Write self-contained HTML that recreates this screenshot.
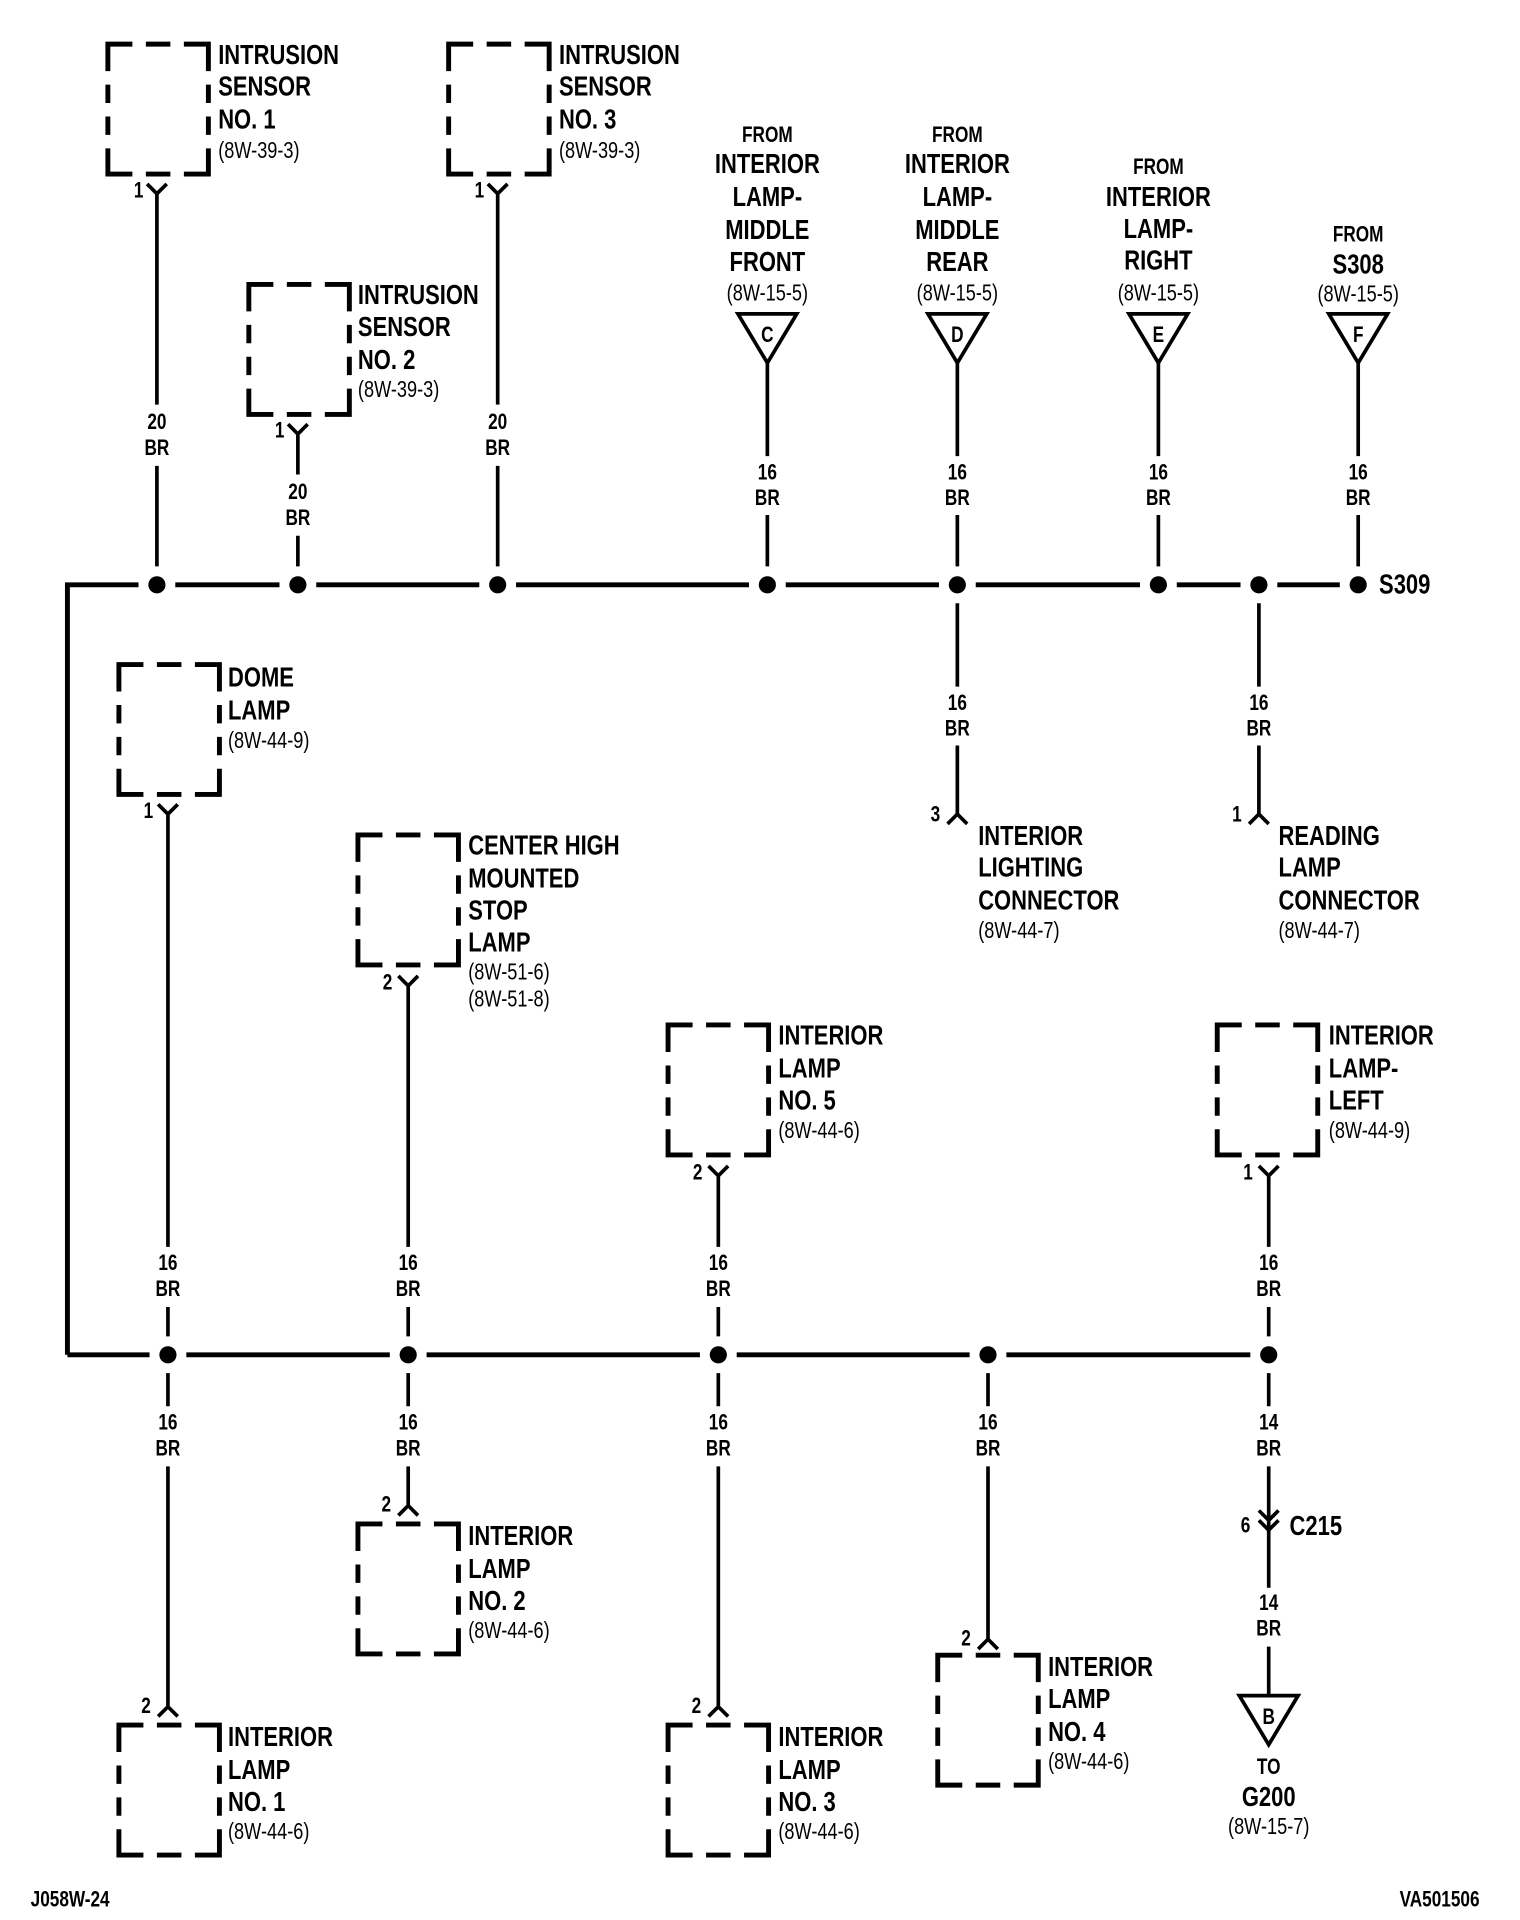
<!DOCTYPE html>
<html><head><meta charset="utf-8"><style>
html,body{margin:0;padding:0;background:#fff}
svg{display:block}
text{font-family:"Liberation Sans",sans-serif;fill:#000}
.b{font-size:23px;font-weight:bold}
.m{font-size:18px;font-weight:bold}
.s{font-size:19px}
.w{stroke:#000;stroke-width:3;fill:none}
.bus{stroke:#000;stroke-width:4;fill:none}
</style></head><body>
<svg width="1520" height="1920" viewBox="0 0 1240 1566" preserveAspectRatio="none" xmlns="http://www.w3.org/2000/svg">
<defs>
<g id="box"><path d="M0,22V0H20M31,0H51M62,0H82V22M82,33V48M82,59V74M82,85V106H62M51,106H31M20,106H0V85M0,74V59M0,48V33" stroke="#000" stroke-width="4" fill="none"/></g>
</defs>

<use href="#box" x="88" y="36"/>
<use href="#box" x="366" y="36"/>
<use href="#box" x="203" y="232"/>
<use href="#box" x="97" y="542"/>
<use href="#box" x="292" y="681"/>
<use href="#box" x="545" y="836"/>
<use href="#box" x="993" y="836"/>
<use href="#box" x="97" y="1407"/>
<use href="#box" x="292" y="1243"/>
<use href="#box" x="545" y="1407"/>
<use href="#box" x="765" y="1350"/>

<g class="b">
<text transform="translate(178,52) scale(.78,1)">INTRUSION</text>
<text transform="translate(178,78) scale(.78,1)">SENSOR</text>
<text transform="translate(178,105) scale(.78,1)">NO. 1</text>
<text transform="translate(456,52) scale(.78,1)">INTRUSION</text>
<text transform="translate(456,78) scale(.78,1)">SENSOR</text>
<text transform="translate(456,105) scale(.78,1)">NO. 3</text>
<text transform="translate(292,248) scale(.78,1)">INTRUSION</text>
<text transform="translate(292,274) scale(.78,1)">SENSOR</text>
<text transform="translate(292,301) scale(.78,1)">NO. 2</text>
<text transform="translate(186,560) scale(.78,1)">DOME</text>
<text transform="translate(186,587) scale(.78,1)">LAMP</text>
<text transform="translate(382,697) scale(.78,1)">CENTER HIGH</text>
<text transform="translate(382,724) scale(.78,1)">MOUNTED</text>
<text transform="translate(382,750) scale(.78,1)">STOP</text>
<text transform="translate(382,776) scale(.78,1)">LAMP</text>
<text transform="translate(635,852) scale(.78,1)">INTERIOR</text>
<text transform="translate(635,879) scale(.78,1)">LAMP</text>
<text transform="translate(635,905) scale(.78,1)">NO. 5</text>
<text transform="translate(1084,852) scale(.78,1)">INTERIOR</text>
<text transform="translate(1084,879) scale(.78,1)">LAMP-</text>
<text transform="translate(1084,905) scale(.78,1)">LEFT</text>
<text transform="translate(798,689) scale(.78,1)">INTERIOR</text>
<text transform="translate(798,715) scale(.78,1)">LIGHTING</text>
<text transform="translate(798,742) scale(.78,1)">CONNECTOR</text>
<text transform="translate(1043,689) scale(.78,1)">READING</text>
<text transform="translate(1043,715) scale(.78,1)">LAMP</text>
<text transform="translate(1043,742) scale(.78,1)">CONNECTOR</text>
<text transform="translate(186,1424) scale(.78,1)">INTERIOR</text>
<text transform="translate(186,1451) scale(.78,1)">LAMP</text>
<text transform="translate(186,1477) scale(.78,1)">NO. 1</text>
<text transform="translate(382,1260) scale(.78,1)">INTERIOR</text>
<text transform="translate(382,1287) scale(.78,1)">LAMP</text>
<text transform="translate(382,1313) scale(.78,1)">NO. 2</text>
<text transform="translate(635,1424) scale(.78,1)">INTERIOR</text>
<text transform="translate(635,1451) scale(.78,1)">LAMP</text>
<text transform="translate(635,1477) scale(.78,1)">NO. 3</text>
<text transform="translate(855,1367) scale(.78,1)">INTERIOR</text>
<text transform="translate(855,1393) scale(.78,1)">LAMP</text>
<text transform="translate(855,1420) scale(.78,1)">NO. 4</text>
<text transform="translate(1125,484) scale(.78,1)">S309</text>
<text transform="translate(1052,1252) scale(.78,1)">C215</text>
</g>
<g class="s">
<text transform="translate(178,129) scale(.78,1)">(8W-39-3)</text>
<text transform="translate(456,129) scale(.78,1)">(8W-39-3)</text>
<text transform="translate(292,324) scale(.78,1)">(8W-39-3)</text>
<text transform="translate(186,610) scale(.78,1)">(8W-44-9)</text>
<text transform="translate(382,799) scale(.78,1)">(8W-51-6)</text>
<text transform="translate(382,821) scale(.78,1)">(8W-51-8)</text>
<text transform="translate(635,928) scale(.78,1)">(8W-44-6)</text>
<text transform="translate(1084,928) scale(.78,1)">(8W-44-9)</text>
<text transform="translate(798,765) scale(.78,1)">(8W-44-7)</text>
<text transform="translate(1043,765) scale(.78,1)">(8W-44-7)</text>
<text transform="translate(186,1500) scale(.78,1)">(8W-44-6)</text>
<text transform="translate(382,1336) scale(.78,1)">(8W-44-6)</text>
<text transform="translate(635,1500) scale(.78,1)">(8W-44-6)</text>
<text transform="translate(855,1443) scale(.78,1)">(8W-44-6)</text>
</g>

<g text-anchor="middle">
<text class="m" transform="translate(626,116) scale(.78,1)">FROM</text>
<text class="b" transform="translate(626,141) scale(.78,1)">INTERIOR</text>
<text class="b" transform="translate(626,168) scale(.78,1)">LAMP-</text>
<text class="b" transform="translate(626,195) scale(.78,1)">MIDDLE</text>
<text class="b" transform="translate(626,221) scale(.78,1)">FRONT</text>
<text class="s" transform="translate(626,245) scale(.78,1)">(8W-15-5)</text>
<text class="m" transform="translate(781,116) scale(.78,1)">FROM</text>
<text class="b" transform="translate(781,141) scale(.78,1)">INTERIOR</text>
<text class="b" transform="translate(781,168) scale(.78,1)">LAMP-</text>
<text class="b" transform="translate(781,195) scale(.78,1)">MIDDLE</text>
<text class="b" transform="translate(781,221) scale(.78,1)">REAR</text>
<text class="s" transform="translate(781,245) scale(.78,1)">(8W-15-5)</text>
<text class="m" transform="translate(945,142) scale(.78,1)">FROM</text>
<text class="b" transform="translate(945,168) scale(.78,1)">INTERIOR</text>
<text class="b" transform="translate(945,194) scale(.78,1)">LAMP-</text>
<text class="b" transform="translate(945,220) scale(.78,1)">RIGHT</text>
<text class="s" transform="translate(945,245) scale(.78,1)">(8W-15-5)</text>
<text class="m" transform="translate(1108,197) scale(.78,1)">FROM</text>
<text class="b" transform="translate(1108,223) scale(.78,1)">S308</text>
<text class="s" transform="translate(1108,246) scale(.78,1)">(8W-15-5)</text>
<text class="m" transform="translate(1035,1447) scale(.78,1)">TO</text>
<text class="b" transform="translate(1035,1473) scale(.78,1)">G200</text>
<text class="s" transform="translate(1035,1496) scale(.78,1)">(8W-15-7)</text>
</g>

<g class="w">
<path d="M602,256H650L626,296Z"/>
<path d="M757,256H805L781,296Z"/>
<path d="M921,256H969L945,296Z"/>
<path d="M1084,256H1132L1108,296Z"/>
<path d="M1011,1383H1059L1035,1423Z"/>
</g>
<g class="m" text-anchor="middle">
<text transform="translate(626,279) scale(.78,1)">C</text>
<text transform="translate(781,279) scale(.78,1)">D</text>
<text transform="translate(945,279) scale(.78,1)">E</text>
<text transform="translate(1108,279) scale(.78,1)">F</text>
<text transform="translate(1035,1406) scale(.78,1)">B</text>
</g>

<g class="m" text-anchor="middle">
<text transform="translate(128,350) scale(.78,1)">20</text><text transform="translate(128,371) scale(.78,1)">BR</text>
<text transform="translate(406,350) scale(.78,1)">20</text><text transform="translate(406,371) scale(.78,1)">BR</text>
<text transform="translate(243,407) scale(.78,1)">20</text><text transform="translate(243,428) scale(.78,1)">BR</text>
<text transform="translate(626,391) scale(.78,1)">16</text><text transform="translate(626,412) scale(.78,1)">BR</text>
<text transform="translate(781,391) scale(.78,1)">16</text><text transform="translate(781,412) scale(.78,1)">BR</text>
<text transform="translate(945,391) scale(.78,1)">16</text><text transform="translate(945,412) scale(.78,1)">BR</text>
<text transform="translate(1108,391) scale(.78,1)">16</text><text transform="translate(1108,412) scale(.78,1)">BR</text>
<text transform="translate(781,579) scale(.78,1)">16</text><text transform="translate(781,600) scale(.78,1)">BR</text>
<text transform="translate(1027,579) scale(.78,1)">16</text><text transform="translate(1027,600) scale(.78,1)">BR</text>
<text transform="translate(137,1036) scale(.78,1)">16</text><text transform="translate(137,1057) scale(.78,1)">BR</text>
<text transform="translate(333,1036) scale(.78,1)">16</text><text transform="translate(333,1057) scale(.78,1)">BR</text>
<text transform="translate(586,1036) scale(.78,1)">16</text><text transform="translate(586,1057) scale(.78,1)">BR</text>
<text transform="translate(1035,1036) scale(.78,1)">16</text><text transform="translate(1035,1057) scale(.78,1)">BR</text>
<text transform="translate(137,1166) scale(.78,1)">16</text><text transform="translate(137,1187) scale(.78,1)">BR</text>
<text transform="translate(333,1166) scale(.78,1)">16</text><text transform="translate(333,1187) scale(.78,1)">BR</text>
<text transform="translate(586,1166) scale(.78,1)">16</text><text transform="translate(586,1187) scale(.78,1)">BR</text>
<text transform="translate(806,1166) scale(.78,1)">16</text><text transform="translate(806,1187) scale(.78,1)">BR</text>
<text transform="translate(1035,1166) scale(.78,1)">14</text><text transform="translate(1035,1187) scale(.78,1)">BR</text>
<text transform="translate(1035,1313) scale(.78,1)">14</text><text transform="translate(1035,1334) scale(.78,1)">BR</text>
</g>

<g class="m" text-anchor="end">
<text transform="translate(117,161) scale(.78,1)">1</text>
<text transform="translate(395,161) scale(.78,1)">1</text>
<text transform="translate(232,357) scale(.78,1)">1</text>
<text transform="translate(125,667) scale(.78,1)">1</text>
<text transform="translate(320,807) scale(.78,1)">2</text>
<text transform="translate(573,962) scale(.78,1)">2</text>
<text transform="translate(1022,962) scale(.78,1)">1</text>
<text transform="translate(767,670) scale(.78,1)">3</text>
<text transform="translate(1013,670) scale(.78,1)">1</text>
<text transform="translate(123,1397) scale(.78,1)">2</text>
<text transform="translate(319,1233) scale(.78,1)">2</text>
<text transform="translate(572,1397) scale(.78,1)">2</text>
<text transform="translate(792,1342) scale(.78,1)">2</text>
<text transform="translate(1020,1250) scale(.78,1)">6</text>
</g>

<g class="w">
<path d="M120,150L128,158L136,150M128,158V330M128,380V462"/>
<path d="M398,150L406,158L414,150M406,158V330M406,380V462"/>
<path d="M235,346L243,354L251,346M243,354V387M243,437V462"/>
<path d="M626,296V372M626,420V462"/>
<path d="M781,296V372M781,420V462"/>
<path d="M945,296V372M945,420V462"/>
<path d="M1108,296V372M1108,420V462"/>
<path d="M781,492V560M781,608V664M773,672L781,664L789,672"/>
<path d="M1027,492V560M1027,608V664M1019,672L1027,664L1035,672"/>
<path d="M129,656L137,664L145,656M137,664V1017M137,1066V1090"/>
<path d="M325,796L333,804L341,796M333,804V1017M333,1066V1090"/>
<path d="M578,951L586,959L594,951M586,959V1017M586,1066V1090"/>
<path d="M1027,951L1035,959L1043,951M1035,959V1017M1035,1066V1090"/>
<path d="M137,1120V1147M137,1196V1392M129,1400L137,1392L145,1400"/>
<path d="M333,1120V1147M333,1196V1228M325,1236L333,1228L341,1236"/>
<path d="M586,1120V1147M586,1196V1392M578,1400L586,1392L594,1400"/>
<path d="M806,1120V1147M806,1196V1337M798,1345L806,1337L814,1345"/>
<path d="M1035,1120V1147M1035,1196V1295M1035,1343V1383"/>
<path d="M1027,1232L1035,1240L1043,1232M1027,1240L1035,1248L1043,1240"/>
</g>

<g class="bus">
<path d="M55,1105V477H113M143,477H228M258,477H391M421,477H611M641,477H766M796,477H930M960,477H1012M1042,477H1093"/>
<path d="M55,1105H122M152,1105H318M348,1105H571M601,1105H791M821,1105H1020"/>
</g>
<g fill="#000">
<circle cx="128" cy="477" r="7"/><circle cx="243" cy="477" r="7"/><circle cx="406" cy="477" r="7"/>
<circle cx="626" cy="477" r="7"/><circle cx="781" cy="477" r="7"/><circle cx="945" cy="477" r="7"/>
<circle cx="1027" cy="477" r="7"/><circle cx="1108" cy="477" r="7"/>
<circle cx="137" cy="1105" r="7"/><circle cx="333" cy="1105" r="7"/><circle cx="586" cy="1105" r="7"/>
<circle cx="806" cy="1105" r="7"/><circle cx="1035" cy="1105" r="7"/>
</g>

<text class="m" transform="translate(25,1555) scale(.78,1)">J058W-24</text>
<text class="m" text-anchor="end" transform="translate(1207,1555) scale(.78,1)">VA501506</text>
</svg>
</body></html>
